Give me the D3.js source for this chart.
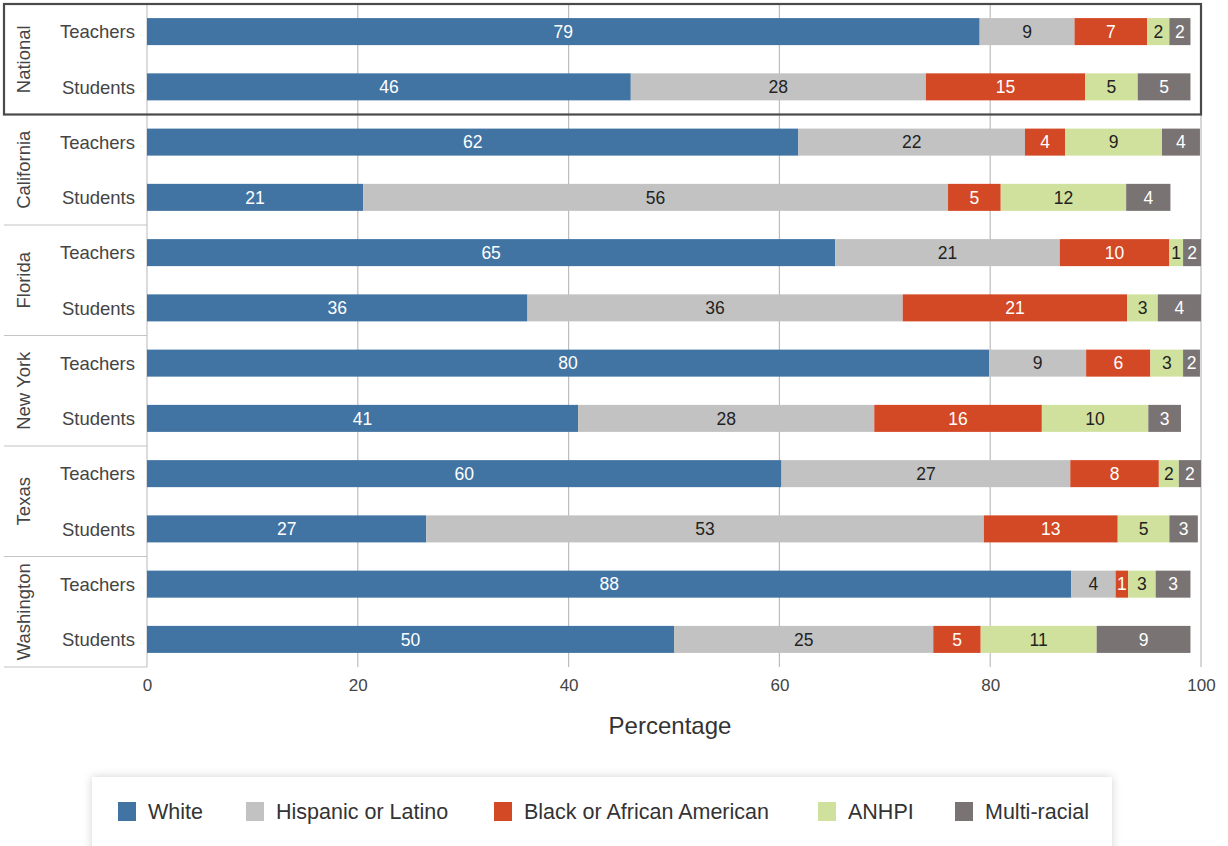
<!DOCTYPE html>
<html>
<head>
<meta charset="utf-8">
<script src="https://cdn.jsdelivr.net/npm/d3@7"></script>
<style>
html,body{margin:0;padding:0;background:#fff;}
svg{display:block;font-family:"Liberation Sans",Arial,Helvetica,sans-serif;}
</style>
</head>
<body>
<svg id="chart" width="1228" height="846"></svg>
<script>
// ---- DATA ----
const groups = ["National","California","Florida","New York","Texas","Washington"];
const roles = ["Teachers","Students"];
const seriesNames = ["White","Hispanic or Latino","Black or African American","ANHPI","Multi-racial"];
// values in row order: National T, National S, California T, California S, ... Washington S
const white    = [79.0, 45.9, 61.8, 20.5, 65.3, 36.1, 79.9, 40.9, 60.2, 26.5, 87.7, 50.0];
const hispanic = [ 9.0, 28.0, 21.5, 55.5, 21.3, 35.6,  9.2, 28.1, 27.4, 52.9,  4.2, 24.6];
const black    = [ 6.9, 15.1,  3.8,  5.0, 10.4, 21.3,  6.1, 15.9,  8.4, 12.7,  1.2,  4.5];
const anhpi    = [ 2.1,  5.0,  9.2, 11.9,  1.3,  2.9,  3.1, 10.1,  1.9,  4.9,  2.6, 11.0];
const multi    = [ 2.0,  5.0,  3.6,  4.2,  1.7,  4.1,  1.6,  3.1,  2.1,  2.7,  3.3,  8.9];
const xTicks   = [0, 20, 40, 60, 80, 100];

const colors = ["#4174a3","#c2c2c2","#d34825","#d0e19d","#797373"];
const labelColors = ["#ffffff","#222222","#ffffff","#222222","#ffffff"];

const seriesValues = [white, hispanic, black, anhpi, multi];
const rows = [];
groups.forEach((g, gi) => roles.forEach((r, ri) => rows.push({key: g + "|" + r, group: g, role: r, idx: gi*2+ri})));

const svg = d3.select("#chart");
const pLeft = 147, pRight = 1201, pTop = 4, pBottom = 667;

const x = d3.scaleLinear().domain([0, 100]).range([pLeft, pRight]);
const y = d3.scaleBand().domain(rows.map(d => d.key)).range([pTop, pBottom]).paddingInner(0.511).paddingOuter(0.255);

// gridlines
svg.append("g").selectAll("line").data(xTicks.filter(t => t > 0)).join("line")
  .attr("x1", d => x(d)).attr("x2", d => x(d))
  .attr("y1", pTop).attr("y2", pBottom)
  .attr("stroke", "#bdbdbd").attr("stroke-width", 1.2);

// group separators
const groupStep = (pBottom - pTop) / groups.length;
svg.append("g").selectAll("line").data(d3.range(1, groups.length + 1)).join("line")
  .attr("x1", 4).attr("x2", pLeft)
  .attr("y1", d => pTop + d*groupStep).attr("y2", d => pTop + d*groupStep)
  .attr("stroke", "#c4c4c4").attr("stroke-width", 1.2);

// y axis line
svg.append("line").attr("x1", pLeft).attr("x2", pLeft).attr("y1", pTop).attr("y2", pBottom)
  .attr("stroke", "#c4c4c4").attr("stroke-width", 1.2);

// stacked data
const stackData = rows.map(r => {
  const o = {key: r.key};
  seriesNames.forEach((s, si) => o[s] = seriesValues[si][r.idx]);
  return o;
});
const stack = d3.stack().keys(seriesNames)(stackData);

const barsG = svg.append("g");
stack.forEach((layer, si) => {
  const g = barsG.append("g");
  g.selectAll("rect").data(layer).join("rect")
    .attr("x", d => x(d[0]))
    .attr("width", d => x(d[1]) - x(d[0]))
    .attr("y", d => y(d.data.key))
    .attr("height", y.bandwidth())
    .attr("fill", colors[si]);
  g.selectAll("text").data(layer).join("text")
    .attr("x", d => (x(d[0]) + x(d[1])) / 2)
    .attr("y", d => y(d.data.key) + y.bandwidth()/2)
    .attr("dy", "0.36em")
    .attr("text-anchor", "middle")
    .attr("font-size", 17.5)
    .attr("fill", labelColors[si])
    .text(d => Math.round(d[1] - d[0]));
});

// row labels
svg.append("g").selectAll("text").data(rows).join("text")
  .attr("x", 135)
  .attr("y", d => y(d.key) + y.bandwidth()/2)
  .attr("dy", "0.36em")
  .attr("text-anchor", "end")
  .attr("font-size", 18.5)
  .attr("fill", "#444")
  .text(d => d.role);

// group labels
svg.append("g").selectAll("text").data(groups).join("text")
  .attr("transform", (d, i) => `translate(30,${pTop + (i + 0.5)*groupStep}) rotate(-90)`)
  .attr("text-anchor", "middle")
  .attr("font-size", 18.5)
  .attr("fill", "#444")
  .text(d => d);

// national highlight box
svg.append("rect")
  .attr("x", 4).attr("y", pTop)
  .attr("width", pRight - 4).attr("height", groupStep)
  .attr("fill", "none").attr("stroke", "#4a4a4a").attr("stroke-width", 2.2);

// x axis
const xAxis = svg.append("g").attr("transform", `translate(0,${pBottom})`)
  .call(d3.axisBottom(x).tickValues(xTicks).tickSize(0).tickPadding(12));
xAxis.select(".domain").remove();
xAxis.selectAll("text").attr("font-size", 17).attr("fill", "#444")
  .attr("font-family", "Liberation Sans, Arial, sans-serif");

svg.append("text").attr("x", 670).attr("y", 734)
  .attr("text-anchor", "middle").attr("font-size", 24).attr("fill", "#333")
  .text("Percentage");

// legend
const defs = svg.append("defs");
const f = defs.append("filter").attr("id", "shadow").attr("x", "-5%").attr("y", "-50%").attr("width", "110%").attr("height", "200%");
f.append("feDropShadow").attr("dx", 0).attr("dy", 0).attr("stdDeviation", 5).attr("flood-color", "#000").attr("flood-opacity", 0.18);

svg.append("rect").attr("x", 92).attr("y", 777).attr("width", 1020).attr("height", 80)
  .attr("fill", "#fff").attr("filter", "url(#shadow)");

const legendX = [118, 246, 494, 818, 955];
const lg = svg.append("g").selectAll("g").data(seriesNames).join("g")
  .attr("transform", (d, i) => `translate(${legendX[i]},802)`);
lg.append("rect").attr("width", 18).attr("height", 19).attr("fill", (d, i) => colors[i]);
lg.append("text").attr("x", 30).attr("y", 9.5).attr("dy", "0.36em")
  .attr("font-size", 21.5).attr("fill", "#333").text(d => d);
</script>
</body>
</html>
